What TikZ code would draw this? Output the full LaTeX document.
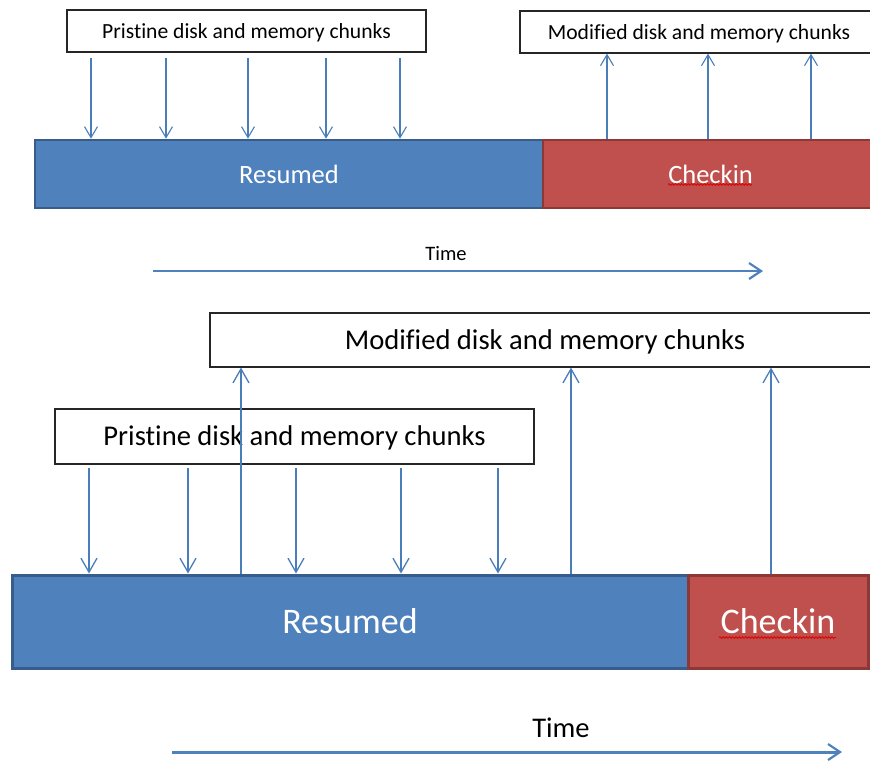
\documentclass[tikz,border=0pt]{standalone}
\usepackage{fontspec}
\setmainfont{Carlito}[Ligatures=NoCommon]
\usetikzlibrary{arrows.meta,decorations.pathmorphing}
\definecolor{barblue}{HTML}{4F81BD}
\definecolor{barblueedge}{HTML}{385D8A}
\definecolor{barred}{HTML}{C0504D}
\definecolor{barrededge}{HTML}{8C3836}
\definecolor{linkblue}{HTML}{4A7EBB}
\tikzset{
  chunkbox/.style={draw=black!85, line width=1.2pt, fill=white, inner sep=0pt, anchor=center},
  resumedbar/.style={draw=barblueedge, fill=barblue, line width=2.6pt, inner sep=0pt, text=white, anchor=center},
  checkinbar/.style={draw=barrededge, fill=barred, line width=2.6pt, inner sep=0pt, text=white, anchor=center},
  flow/.style={draw=linkblue, line width=1.1pt, -{Straight Barb[length=11pt,width=13pt,line width=1.1pt]}},
  bigflow/.style={draw=linkblue, line width=1.3pt, -{Straight Barb[length=14pt,width=16pt,line width=1.3pt]}},
  timearrow/.style={draw=barblue, line width=2.6pt, -{Straight Barb[length=12pt,width=16pt,line width=2.2pt]}},
  squiggle/.style={draw=red!85!black, line width=0.8pt, decorate, decoration={snake, amplitude=0.9pt, segment length=3.2pt}},
}
\begin{document}
\begin{tikzpicture}[x=1pt,y=-1pt]
\useasboundingbox (0,0) rectangle (870,764);

% ---------- first timeline ----------
\node[chunkbox, minimum width=359pt, minimum height=42pt, font=\fontsize{21.6}{24}\selectfont, text depth=0.5pt] (tpris) at (246.5,31) {Pristine disk and memory chunks};
\node[chunkbox, minimum width=358pt, minimum height=42pt, font=\fontsize{21.6}{24}\selectfont, text depth=0.5pt] (tmod) at (699,32) {Modified disk and memory chunks};
\node[resumedbar, minimum width=508pt, minimum height=68pt, font=\fontsize{26.5}{30}\selectfont] (tres) at (289,174) {Resumed};
\node[checkinbar, minimum width=335pt, minimum height=68pt, font=\fontsize{26.5}{30}\selectfont] (tchk) at (710.5,174) {Checkin};
\draw[squiggle] (668,184.5) -- (752,184.5);

\foreach \x in {91,166,248,326,400}
  \draw[flow, shorten <=5pt] (\x,0 |- tpris.south) -- (\x,0 |- tres.north);
\foreach \x in {607,708,811}
  \draw[flow] (\x,0 |- tchk.north) -- (\x,0 |- tmod.south);

\node[font=\fontsize{20.5}{24}\selectfont] (ttime) at (446,254) {Time};
\coordinate (tt0) at (153,271);
\coordinate (tt1) at (763,271);
\draw[timearrow, line width=2.2pt] (tt0) -- (tt1);

% ---------- second timeline ----------
\node[chunkbox, minimum width=670pt, minimum height=54pt, font=\fontsize{28.6}{32}\selectfont, text depth=1pt] (bmod) at (545,340) {Modified disk and memory chunks};
\node[chunkbox, minimum width=479pt, minimum height=55pt, font=\fontsize{28.6}{32}\selectfont, text depth=1pt] (bpris) at (294.5,436.5) {Pristine disk and memory chunks};
\node[resumedbar, minimum width=676pt, minimum height=93pt, line width=3pt, font=\fontsize{36}{40}\selectfont] (bres) at (350,621.5) {Resumed};
\node[checkinbar, minimum width=180pt, minimum height=93pt, line width=3pt, font=\fontsize{36}{40}\selectfont] (bchk) at (778,621.5) {Checkin};
\draw[squiggle] (719,637.5) -- (836,637.5);

\foreach \x in {89,188,296,401,498}
  \draw[bigflow, shorten <=3pt] (\x,0 |- bpris.south) -- (\x,0 |- bres.north);
\foreach \x in {241,571}
  \draw[bigflow] (\x,0 |- bres.north) -- (\x,0 |- bmod.south);
\draw[bigflow] (771,0 |- bchk.north) -- (771,0 |- bmod.south);

\node[font=\fontsize{28.5}{32}\selectfont] (btime) at (561,728) {Time};
\coordinate (bt0) at (172,752);
\coordinate (bt1) at (842,752);
\draw[timearrow, line width=3pt] (bt0) -- (bt1);
\end{tikzpicture}
\end{document}
